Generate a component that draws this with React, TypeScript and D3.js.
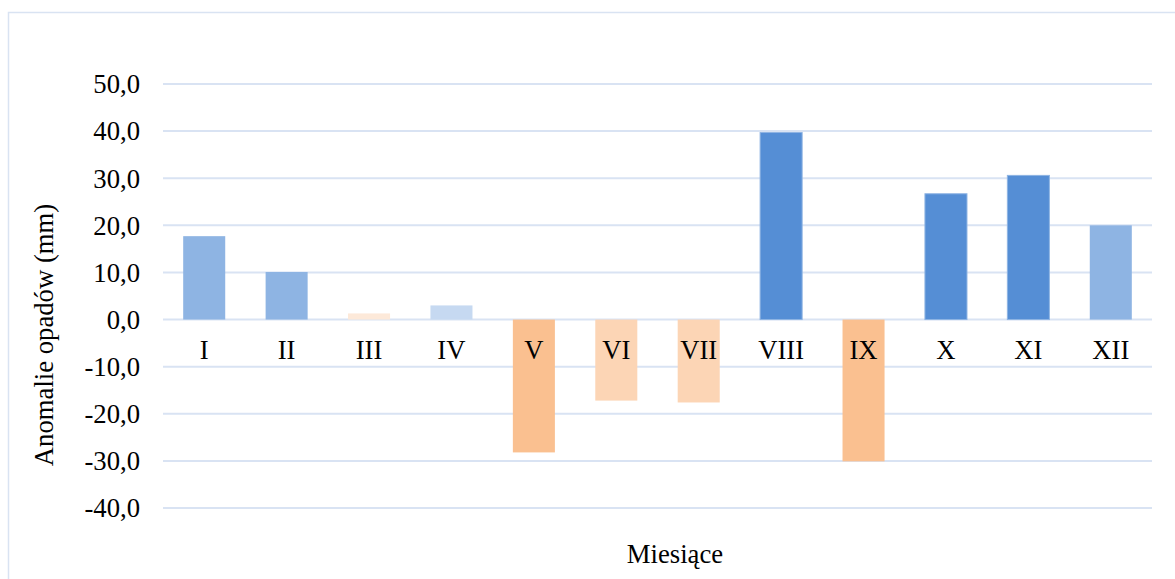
import React, { useEffect, useRef } from 'react';
import * as d3 from 'd3';

const months = ['I', 'II', 'III', 'IV', 'V', 'VI', 'VII', 'VIII', 'IX', 'X', 'XI', 'XII'];
const anomalies = [17.7, 10.1, 1.3, 3.0, -28.2, -17.2, -17.6, 39.7, -30.1, 26.7, 30.6, 20.0];
const yTicks = [50, 40, 30, 20, 10, 0, -10, -20, -30, -40];

const App: React.FC = () => {
  const ref = useRef<SVGSVGElement>(null);

  useEffect(() => {
    const svg = d3.select(ref.current);
    svg.selectAll('*').remove();

    const font = "'Liberation Serif', 'Times New Roman', serif";
    const fontSize = 26.7;
    const left = 163, right = 1152;

    // ramka wykresu
    svg.append('rect')
      .attr('x', 8.5).attr('y', 12.5)
      .attr('width', 1200).attr('height', 600)
      .attr('fill', 'white')
      .attr('stroke', '#d9e3f2')
      .attr('stroke-width', 1.5);

    const x = d3.scaleBand<string>()
      .domain(months)
      .range([left, right])
      .paddingInner(0.49)
      .paddingOuter(0.245);

    const y = d3.scaleLinear()
      .domain([-40, 50])
      .range([508, 84]);

    // kolor zależny od wartości anomalii
    const color = d3.scaleThreshold<number, string>()
      .domain([-20, 0, 2, 10, 25])
      .range(['#fac090', '#fcd5b5', '#fde9d9', '#c6d9f1', '#8eb4e3', '#558ed5']);

    const g = svg.append('g');

    // linie siatki
    g.selectAll('.grid')
      .data(yTicks)
      .enter().append('line')
      .attr('x1', left).attr('x2', right)
      .attr('y1', d => y(d)).attr('y2', d => y(d))
      .attr('stroke', '#d9e3f3')
      .attr('stroke-width', 2);

    // słupki
    g.selectAll('.bar')
      .data(anomalies)
      .enter().append('rect')
      .attr('x', (_d, i) => x(months[i]) ?? 0)
      .attr('y', d => y(Math.max(0, d)))
      .attr('width', x.bandwidth())
      .attr('height', d => Math.abs(y(d) - y(0)))
      .attr('fill', d => color(d))
      .attr('stroke', d => (d > 25 ? '#8eb4e3' : 'none'))
      .attr('stroke-width', 1);

    // oś Y
    g.selectAll('.ytick')
      .data(yTicks)
      .enter().append('text')
      .attr('x', 140)
      .attr('y', d => y(d))
      .attr('dy', '0.35em')
      .attr('text-anchor', 'end')
      .style('font-family', font)
      .style('font-size', `${fontSize}px`)
      .attr('fill', '#000')
      .text(d => d3.format('.1f')(d).replace('.', ',').replace('−', '-'));

    // etykiety kategorii
    g.selectAll('.xtick')
      .data(months)
      .enter().append('text')
      .attr('x', d => (x(d) ?? 0) + x.bandwidth() / 2)
      .attr('y', 359)
      .attr('text-anchor', 'middle')
      .style('font-family', font)
      .style('font-size', `${fontSize}px`)
      .attr('fill', '#000')
      .text(d => d);

    // tytuły osi
    svg.append('text')
      .attr('transform', 'translate(53,335) rotate(-90)')
      .attr('text-anchor', 'middle')
      .style('font-family', font)
      .style('font-size', `${fontSize}px`)
      .attr('fill', '#000')
      .text('Anomalie opadów (mm)');

    svg.append('text')
      .attr('x', 675)
      .attr('y', 563)
      .attr('text-anchor', 'middle')
      .style('font-family', font)
      .style('font-size', `${fontSize}px`)
      .attr('fill', '#000')
      .text('Miesiące');
  }, []);

  return (
    <svg
      ref={ref}
      width={1175}
      height={579}
      style={{ position: 'absolute', left: 0, top: 0, background: 'white' }}
    />
  );
};

export default App;
